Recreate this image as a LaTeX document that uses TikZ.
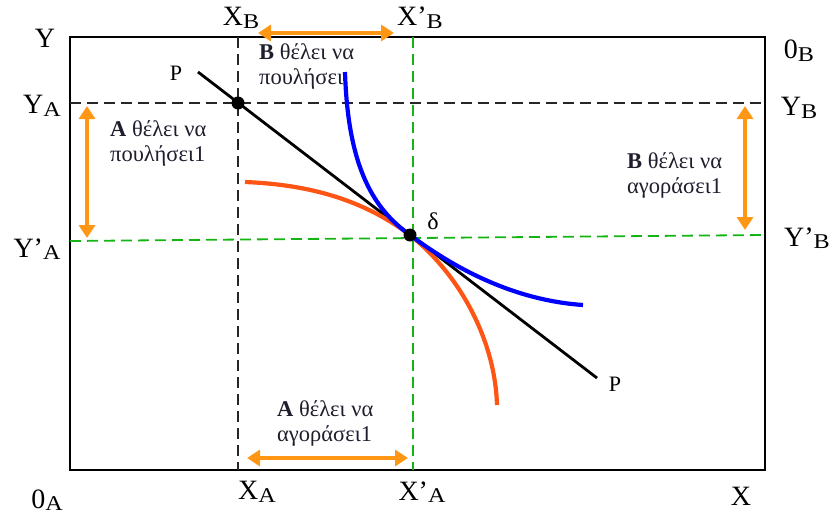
\documentclass[tikz,border=0pt]{standalone}
\usepackage{fontspec}
\setmainfont{Liberation Serif}
\usetikzlibrary{arrows.meta}
\definecolor{myorange}{RGB}{255,150,20}
\definecolor{myred}{RGB}{255,85,20}
\definecolor{mygreen}{RGB}{20,180,20}
\definecolor{myblue}{RGB}{0,0,255}
\definecolor{txt}{RGB}{30,30,45}
\newcommand{\sbx}[1]{\raisebox{-0.2ex}{\fontsize{21}{23}\selectfont\scalebox{1.15}[1]{#1}}}
\tikzset{
  axlabel/.style={font=\fontsize{28}{30}\selectfont, text=black, inner sep=0pt},
  note/.style={font=\fontsize{22.5}{25.5}\selectfont, text=txt, align=left, inner sep=0pt},
  blackdash/.style={draw=black!85, line width=2pt, dash pattern=on 11pt off 6pt},
  greendash/.style={draw=mygreen, line width=1.8pt, dash pattern=on 11pt off 6pt},
  orarrow/.style={draw=myorange, line width=3.8pt, {Triangle[length=13pt,width=16pt]}-{Triangle[length=13pt,width=16pt]}},
  dotp/.style={circle, fill=black, inner sep=0pt, minimum size=13pt},
}
\begin{document}
\begin{tikzpicture}[x=1pt,y=-1pt]
\useasboundingbox (0,0) rectangle (840,517);
% box
\coordinate (tl) at (70,37);
\coordinate (br) at (765,470);
\draw[line width=2.6pt] (tl) rectangle (br);
% dashed lines
\coordinate (xbt) at (238,37); \coordinate (xab) at (238,470);
\draw[blackdash] (xbt) -- (xab);
\coordinate (yal) at (70,103); \coordinate (ybr) at (765,103);
\draw[blackdash] (yal) -- (ybr);
\coordinate (xpbt) at (413,37); \coordinate (xpab) at (413,470);
\draw[greendash] (xpbt) -- (xpab);
\coordinate (ypal) at (70,241); \coordinate (ypbr) at (765,235);
\draw[greendash] (ypal) -- (ypbr);
% price line
\coordinate (p1) at (198,72); \coordinate (p2) at (597,378);
\draw[line width=2.8pt] (p1) -- (p2);
% curves
\coordinate (d) at (410,235);
\draw[myred, line width=4.2pt] (245,182) .. controls (320,185) and (370,205) .. (d)
   .. controls (460,275) and (495,340) .. (497,405);
\draw[myblue, line width=4.2pt] (345,72) .. controls (348,170) and (375,210) .. (d)
   .. controls (450,265) and (510,300) .. (583,305);
% dots
\node[dotp] (ea) at (238,103) {};
\node[dotp] (ed) at (d) {};
% arrows
\coordinate (a1) at (258,33); \coordinate (a2) at (394,33);
\draw[orarrow] (a1) -- (a2);
\coordinate (b1) at (87,106); \coordinate (b2) at (87,238);
\draw[orarrow] (b1) -- (b2);
\coordinate (c1) at (745,106); \coordinate (c2) at (745,230);
\draw[orarrow] (c1) -- (c2);
\coordinate (e1) at (247,458); \coordinate (e2) at (408,458);
\draw[orarrow] (e1) -- (e2);
% axis labels
\node[axlabel] (lY) at (45,38) {Y};
\node[axlabel] (lXB) at (241,18) {X\sbx{B}};
\node[axlabel] (lXpB) at (420,18) {X’\sbx{B}};
\node[axlabel] (l0B) at (799,51) {0\sbx{B}};
\node[axlabel] (lYA) at (42,106) {Y\sbx{A}};
\node[axlabel] (lYB) at (799,108) {Y\sbx{B}};
\node[axlabel] (lYpA) at (37,249) {Y’\sbx{A}};
\node[axlabel] (lYpB) at (807,238) {Y’\sbx{B}};
\node[axlabel] (l0A) at (47,500) {0\sbx{A}};
\node[axlabel] (lXA) at (257,492) {X\sbx{A}};
\node[axlabel] (lXpA) at (422,492) {X’\sbx{A}};
\node[axlabel] (lX) at (741,496) {X};
\node[axlabel, font=\fontsize{22}{24}\selectfont] (lP1) at (176,73) {P};
\node[axlabel, font=\fontsize{22}{24}\selectfont] (lP2) at (615,384) {P};
\node[axlabel, font=\fontsize{24}{26}\selectfont] (ldelta) at (433,221) {δ};
% notes
\node[note, anchor=north west] (n1) at (259,43) {\textbf{B} θέλει να\\πουλήσει};
\node[note, anchor=north west] (n2) at (110,120) {\textbf{A} θέλει να\\πουλήσει1};
\node[note, anchor=north west] (n3) at (627,152) {\textbf{B} θέλει να\\αγοράσει1};
\node[note, anchor=north west] (n4) at (277,400) {\textbf{A} θέλει να\\αγοράσει1};
\end{tikzpicture}
\end{document}
